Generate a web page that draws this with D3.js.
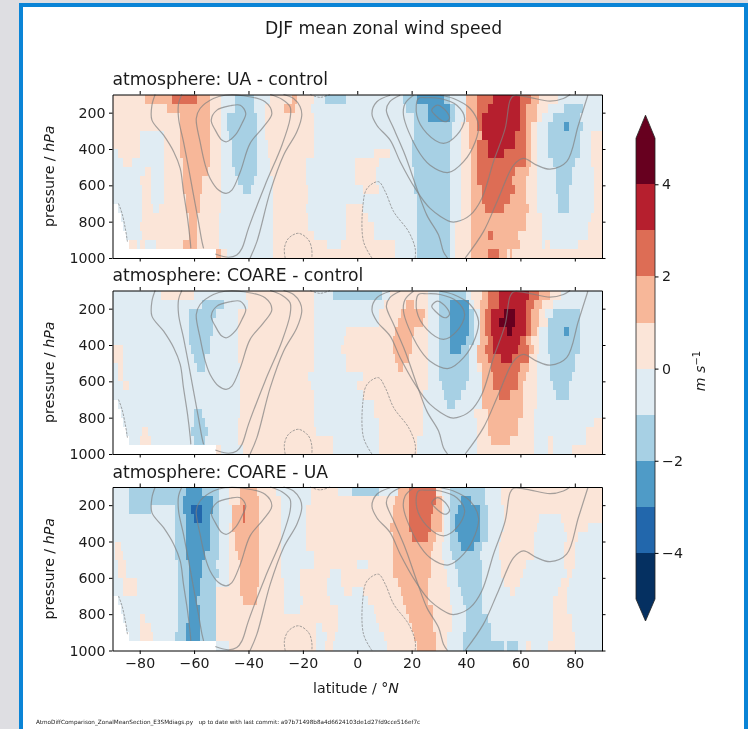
<!DOCTYPE html>
<html>
<head>
<meta charset="utf-8">
<script src="https://cdn.jsdelivr.net/npm/d3@7"></script>
<style>
html,body{margin:0;padding:0;background:#dedee2;overflow:hidden}
svg{display:block;filter:blur(0.35px)}
text{font-family:"DejaVu Sans",sans-serif;fill:#1a1a1a}
</style>
</head>
<body>
<script>
// band values (m/s, mid-point of each colour band)
const E=-3.5,C=-2.5,B=-1.5,L=-0.5,P=0.5,O=1.5,R=2.5,D=3.5,M=4.5,X=null;

const titleText = "DJF mean zonal wind speed";
const panelTitles = ["atmosphere: UA - control","atmosphere: COARE - control","atmosphere: COARE - UA"];
const footerText = "AtmoDiffComparison_ZonalMeanSection_E3SMdiags.py   up to date with last commit: a97b71498b8a4d6624103de1d27fd9cce516ef7c";
const latTicks = [-80,-60,-40,-20,0,20,40,60,80];
const pressureTicks = [200,400,600,800,1000];
const colorbarTicks = [-4,-2,0,2,4];
const levels = [-4,-3,-2,-1,0,1,2,3,4];
const bandColors = ["#053061","#2267ac","#4f9bc7","#a7d0e4","#e0ecf3","#fbe5d8","#f7b799","#dd6d55","#b61f2e","#67001f"];
const pressureEdges = d3.range(100,1001,50);

// each row = one 50 hPa layer: start latitude, value, start latitude, value ...
const uaControl = [
[-90,P,-78,O,-68,R,-59,O,-54,P,-50,L,-45,B,-38,L,-32,P,-24,O,-22,P,-16,L,-12,B,-4,L,17,B,22,C,32,B,34,L,40,O,44,R,50,D,60,R,64,O,67,P,74,L],
[-90,P,-70,O,-54,P,-50,L,-45,B,-38,L,-34,P,-27,O,-23,P,-17,L,18,B,26,C,34,B,36,L,40,O,44,R,48,D,60,R,62,O,66,P,70,L,76,B,83,L],
[-90,P,-65,O,-54,P,-50,L,-48,B,-37,L,-34,P,-16,L,21,B,26,C,34,B,36,L,40,O,44,R,46,D,60,R,62,O,66,P,68,L,72,B,82,L],
[-90,P,-65,O,-54,P,-50,L,-48,B,-37,L,-34,P,-16,L,21,B,35,L,38,P,41,O,44,R,46,D,60,R,62,O,64,P,66,L,70,B,76,C,78,B,83,L],
[-90,P,-80,L,-71,P,-65,O,-54,P,-50,L,-47,B,-37,L,-34,P,-16,L,21,B,35,L,38,P,41,O,46,D,58,R,62,O,64,P,66,L,70,B,82,L,86,P],
[-90,P,-80,L,-71,P,-65,O,-54,P,-50,L,-46,B,-37,L,-33,P,-16,L,20,B,34,L,38,P,41,O,44,R,48,D,58,R,62,O,64,P,66,L,70,B,82,L,86,P],
[-90,L,-88,P,-80,L,-71,P,-65,O,-54,P,-50,L,-46,B,-37,L,-33,P,-16,L,6,P,12,L,20,B,34,L,38,P,42,O,44,R,48,D,54,R,62,O,64,P,66,L,70,B,82,L,86,P],
[-90,L,-86,P,-83,L,-71,P,-64,O,-54,P,-50,L,-46,B,-37,L,-32,P,-19,L,-1,P,8,L,20,B,34,L,38,P,42,O,44,R,62,O,64,P,66,L,72,B,80,L,86,P],
[-90,L,-78,P,-76,L,-71,P,-64,O,-55,P,-50,L,-45,B,-37,L,-32,P,-19,L,-1,P,7,L,21,B,34,L,38,P,42,O,44,R,58,O,63,P,66,L,73,B,79,L,87,P],
[-90,L,-80,P,-76,L,-71,P,-64,O,-57,P,-50,L,-44,B,-38,L,-31,P,-19,L,-1,P,7,L,21,B,34,L,38,P,42,O,44,R,57,O,62,P,66,L,73,B,79,L,87,P],
[-90,L,-79,P,-76,L,-71,P,-64,O,-57,P,-50,L,-42,B,-39,L,-31,P,-18,L,2,P,8,L,21,B,34,L,38,P,42,O,46,R,58,O,62,P,66,L,73,B,78,L,87,P],
[-90,L,-79,P,-76,L,-71,P,-63,O,-58,P,-50,L,-31,P,-18,L,22,B,34,L,38,P,42,O,46,R,56,O,62,P,66,L,74,B,78,L,87,P],
[-90,X,-88,L,-79,P,-75,L,-73,P,-63,O,-58,P,-50,L,-31,P,-19,L,-4,P,2,L,22,B,34,L,38,P,42,O,47,R,54,O,63,P,66,L,74,B,78,L,87,P],
[-90,X,-87,L,-79,P,-62,O,-59,P,-51,L,-31,P,-18,L,-4,P,4,L,22,B,34,L,38,P,42,O,62,P,68,L,86,P],
[-90,X,-86,L,-80,P,-62,O,-59,P,-51,L,-31,P,-18,L,-4,P,6,L,22,B,34,L,36,P,42,O,62,P,68,L,85,P],
[-90,X,-85,L,-79,P,-62,O,-59,P,-51,L,-31,P,-16,L,-4,P,6,L,22,B,34,L,36,P,42,O,48,R,50,O,59,P,68,L,85,P],
[-90,X,-84,P,-81,L,-80,P,-78,L,-74,P,-64,O,-59,P,-51,L,-31,P,-11,L,-6,P,14,L,22,B,34,L,36,P,42,O,60,P,68,L,69,P,71,L,81,P],
[-90,X,-52,O,-50,P,-48,L,-31,P,14,L,22,B,34,L,36,P,42,O,48,R,52,O,55,P,56,O,57,P,81,P]
];

const coareControl = [
[-90,L,-72,P,-60,L,-41,P,-16,L,-9,B,9,L,12,P,26,L,30,B,40,L,42,P,46,O,48,R,52,D,63,R,67,O,71,P,75,L],
[-90,L,-57,B,-49,L,-40,P,-16,L,10,P,18,O,21,P,26,L,30,B,34,C,41,L,43,P,45,O,48,R,52,D,62,R,65,O,68,P,72,L],
[-90,L,-62,B,-52,L,-44,P,-16,L,8,P,16,O,25,P,26,L,30,B,34,C,41,B,43,L,45,O,47,R,49,D,54,M,58,D,62,R,64,O,67,P,69,L,72,B,82,L],
[-90,L,-62,B,-53,L,-44,P,-16,L,8,P,15,O,24,P,26,L,30,B,34,C,41,B,43,L,45,O,47,R,49,D,52,M,58,D,62,R,64,O,67,P,70,B,82,L],
[-90,L,-62,B,-53,L,-44,P,-16,L,-4,P,14,O,21,P,26,L,30,B,34,C,41,B,43,L,45,O,47,R,49,D,55,M,57,D,62,R,64,O,66,P,67,L,70,B,76,C,78,B,82,L],
[-90,L,-62,B,-54,L,-44,P,-16,L,-5,P,13,O,20,P,26,L,30,B,34,C,40,B,43,L,45,O,48,R,50,D,60,R,62,O,64,P,67,L,70,B,82,L],
[-90,P,-86,L,-61,B,-54,L,-44,P,-16,L,-6,P,13,O,20,P,26,L,30,B,34,C,38,B,41,L,44,O,47,R,50,D,59,R,63,O,65,P,67,L,70,B,82,L],
[-90,P,-86,L,-60,B,-56,L,-44,P,-16,L,-4,P,14,O,19,P,26,L,30,B,41,L,44,O,48,R,53,D,57,R,63,P,66,L,71,B,80,L],
[-90,L,-88,P,-86,L,-59,B,-56,L,-43,P,-16,L,-4,P,15,O,17,P,26,L,30,B,41,L,44,P,46,O,49,R,60,O,63,P,66,L,71,B,80,L],
[-90,L,-88,P,-86,L,-43,P,-18,L,2,P,26,L,30,B,41,L,46,O,50,R,59,O,62,P,66,L,71,B,79,L],
[-90,L,-86,P,-84,L,-43,P,-17,L,0,P,26,L,31,B,40,L,46,O,50,R,59,O,61,P,66,L,72,B,78,L],
[-90,L,-43,P,-16,L,2,P,24,L,32,B,38,L,46,O,52,R,56,O,61,P,66,L,73,B,78,L],
[-90,X,-88,L,-43,P,-16,L,6,P,24,L,33,B,36,L,46,O,61,P,66,L],
[-90,X,-87,L,-60,B,-57,L,-43,P,-16,L,6,P,24,L,43,P,48,O,61,P,65,L],
[-90,X,-86,L,-60,B,-56,L,-44,P,-16,L,8,P,24,L,44,P,48,O,59,P,65,L,87,P],
[-90,X,-85,L,-79,P,-77,L,-61,B,-55,L,-44,P,-15,L,8,P,24,L,44,P,48,O,59,P,65,L,84,P],
[-90,X,-84,L,-80,P,-76,L,-60,B,-56,L,-44,P,-9,L,8,P,22,L,44,P,49,O,56,P,65,L,70,P,72,L,84,P],
[-90,X,-52,P,-50,L,-42,P,-9,L,8,P,22,L,44,P,65,L,70,P,72,L,79,P]
];

const coareUa = [
[-90,L,-84,B,-63,C,-57,B,-51,L,-47,P,-43,O,-37,P,-30,L,-17,P,-7,L,-2,B,8,L,15,O,19,R,29,P,31,L,34,B,47,L,53,P],
[-90,L,-84,B,-64,C,-53,B,-51,L,-47,P,-43,O,-36,P,-28,L,-17,P,14,O,19,R,29,O,31,P,32,L,34,B,38,C,42,B,47,L,53,P],
[-90,L,-84,B,-76,L,-67,B,-64,C,-61,E,-57,C,-53,B,-51,L,-46,O,-42,R,-41.2,O,-36,P,-28,L,-19,P,13,O,19,R,28,O,31,P,32,L,34,B,37,C,45,B,48,L,54,P],
[-90,L,-67,B,-63,C,-60,E,-57,C,-54,B,-51,L,-46,O,-42,R,-41.2,O,-36,P,-28,L,-19,P,13,O,19,R,27,O,31,P,32,L,34,B,36,C,45,B,48,L,54,P,67,L,75,P],
[-90,L,-67,B,-63,C,-54,B,-51,L,-47,P,-46,O,-36,P,-28,L,-19,P,12,O,19,R,27,O,31,P,32,L,34,B,36,C,45,B,48,L,54,P,66,L,76,P,85,L],
[-90,L,-67,B,-63,C,-54,B,-51,L,-47,P,-45,O,-36,P,-28,L,-19,P,13,O,20,R,26,O,29,P,32,L,34,B,37,C,45,B,48,L,53,P,65,L,77,P,81,L],
[-90,L,-89,P,-87,L,-67,B,-63,C,-54,B,-51,L,-47,P,-45,O,-36,P,-28,L,-19,P,13,O,28,P,31,L,34,B,38,C,43,B,46,L,52,P,65,L,76,P,80,L],
[-90,L,-89,P,-86,L,-67,B,-63,C,-56,B,-51,L,-47,P,-44,O,-36,P,-28,L,-16,P,13,O,27,P,31,L,35,B,45,L,52,P,65,L,76,P,80,L],
[-90,L,-88,P,-85,L,-66,B,-62,C,-57,B,-52,L,-47,P,-43,O,-36,P,-28,L,-16,P,0,L,4,P,13,O,27,P,32,L,36,B,46,L,53,P,62,L,76,P,80,L],
[-90,L,-88,P,-85,L,-66,B,-62,C,-57,B,-51,L,-47,P,-43,O,-36,P,-28,L,-21,P,-10,L,-6,P,13,O,27,P,33,L,37,B,46,L,53,P,61,L,77,P,79,L],
[-90,L,-86,P,-81,L,-66,B,-62,C,-58,B,-52,L,-47,P,-43,O,-36,P,-27,L,-21,P,-11,L,-6,P,15,O,26,P,33,L,37,B,46,L,54,P,60,L,75,P,78,L],
[-90,L,-86,P,-81,L,-66,B,-62,C,-58,B,-52,P,-43,O,-37,P,-27,L,-21,P,-11,L,-5,P,-2,L,2,P,16,O,26,P,34,L,38,B,46,L,56,P,58,L,74,P,77,L],
[-90,X,-88,L,-66,B,-62,C,-59,B,-52,P,-42,O,-37,P,-27,L,-20,P,-10,L,4,P,17,O,26,P,34,L,39,B,46,L,72,P,77,L],
[-90,X,-87,L,-66,B,-62,C,-58,B,-52,P,-27,L,-21,P,-7,L,6,P,18,O,28,P,35,L,40,B,46,L,72,P,77,L],
[-90,X,-86,L,-80,P,-78,L,-66,B,-62,C,-58,B,-52,P,-7,L,7,P,19,O,28,P,35,L,40,B,48,L,72,P,79,L],
[-90,X,-85,L,-80,P,-76,L,-66,B,-63,C,-58,B,-52,P,-15,L,-13,P,-7,L,8,P,20,O,28,P,35,L,40,B,49,L,72,P,79,L],
[-90,X,-84,L,-80,P,-75,L,-67,B,-63,C,-58,B,-52,P,-15,L,-11,P,-8,L,10,P,21,O,29,P,33,L,39,B,49,L,72,P,80,L],
[-90,X,-52,L,-47,P,-15,L,-12,P,-9,L,11,P,22,O,29,P,33,L,39,B,54,L,55,B,59,L,62,P,64,L,70,P,80,L]
];

// mean-wind contours traced as [latitude, pressure]
const contoursOpen = [
[[-74.3,100],[-75.5,159],[-75.5,241],[-71.2,324],[-67.5,415],[-65.1,507],[-63.9,635],[-62.4,782],[-61.4,910],[-61.2,947]],
[[-64.5,100],[-65.7,149],[-65.7,232],[-63.9,360],[-62,507],[-60.2,654],[-58.4,800],[-57.1,910],[-56.5,947]],
[[-52.2,978],[-47.3,996],[-44.3,984],[-42.4,947],[-40,837],[-33.9,599],[-27.7,379],[-24.7,232],[-24.7,168],[-27.7,126],[-32,100]],
[[-39.4,1000],[-36.9,910],[-32,635],[-27.1,434],[-22.2,305],[-20.4,214],[-21,168],[-23.4,122],[-27.1,100]],
[[12.1,104],[7.2,140],[5.4,204],[7.2,269],[12.1,351],[15.8,470],[21.3,617],[26.8,727],[34.2,800],[36.6,800],[41.5,764],[45.8,672],[50.1,470],[54.4,287],[56.2,131],[57.5,107],[62.4,113],[70.9,137],[75.8,122],[78.3,100]],
[[15.8,104],[11.9,140],[10.7,186],[13.4,287],[17.6,434],[21.9,617],[25.6,764],[29.9,874],[31.7,965],[33.2,1000]],
[[20.7,104],[17.6,149],[17,214],[21.9,397],[26.8,489],[33.6,529],[39.1,470],[43.4,360],[44.6,269],[41.5,177],[35.4,122],[30.5,104]],
[[39.7,1000],[46.4,855],[51.9,672],[57.5,489],[61.1,452],[66,489],[70.9,511],[77,470],[81.3,269],[84.8,104]]
];
const contoursClosed = [
[[-57.8,177],[-52.9,122],[-48.6,104],[-41.8,107],[-33.9,140],[-31.4,204],[-34.5,278],[-39.4,369],[-43,525],[-46.1,626],[-48.2,644],[-51,626],[-54.1,562],[-55.9,489],[-57.8,360],[-59.2,232]],
[[-41,204],[-43,159],[-46.7,162],[-51.6,186],[-53.7,241],[-52.2,296],[-49.8,351],[-48,360],[-44.9,324],[-42.4,259]],
[[22.5,122],[21.9,214],[25.6,314],[31.7,369],[36.6,324],[39.5,232],[36.6,159],[30.5,122],[25.6,118]],
[[27.4,186],[29.5,159],[32.9,195],[33.9,232],[32.3,250],[28.7,214]]
];
const contoursDashed = [
[[-87.8,700],[-86.5,754],[-85.3,837],[-84.5,910]],
[[-26.5,1000],[-26.8,947],[-25.3,892],[-21.6,864],[-17.9,901],[-16.7,956],[-16.7,1000]],
[[-17.3,100],[-13.7,116],[-10,100]],
[[5.4,1000],[2.3,910],[2.1,709],[3.6,617],[7.8,580],[10.3,635],[13.4,745],[18.9,855],[21.3,947],[21.3,1000]]
];

const panelData = [uaControl, coareControl, coareUa];
const W=748,H=729;
const svg = d3.select("body").append("svg").attr("width",W).attr("height",H);

// page frame
svg.append("rect").attr("x",21).attr("y",5).attr("width",725).attr("height",H+20)
  .attr("fill","#fff").attr("stroke","#0a84d6").attr("stroke-width",4);

svg.append("text").attr("x",383.5).attr("y",33.5).attr("text-anchor","middle")
  .style("font-size","17.2px").text(titleText);

const x = d3.scaleLinear().domain([-90,90]).range([112.5,602]);
const color = d3.scaleThreshold().domain(levels).range(bandColors);
const minus = s => String(s).replace("-","\u2212");
const panelTops = [94.5,290.5,487];
const panelH = 163.5;

panelData.forEach((rows,pi)=>{
  const top = panelTops[pi];
  const y = d3.scaleLinear().domain([100,1000]).range([top,top+panelH]);
  const g = svg.append("g");
  rows.forEach((row,ri)=>{
    for(let i=0;i<row.length;i+=2){
      const v=row[i+1]; if(v===null) continue;
      const x0=row[i], x1=i+2<row.length?row[i+2]:90;
      g.append("rect").attr("x",x(x0)).attr("width",x(x1)-x(x0))
       .attr("y",y(pressureEdges[ri])).attr("height",y(pressureEdges[ri+1])-y(pressureEdges[ri]))
       .attr("fill",color(v)).attr("shape-rendering","crispEdges");
    }
  });
  const line = d3.line().x(d=>x(d[0])).y(d=>y(d[1])).curve(d3.curveCatmullRom.alpha(0.5));
  const lineC = d3.line().x(d=>x(d[0])).y(d=>y(d[1])).curve(d3.curveCatmullRomClosed.alpha(0.5));
  const cg = g.append("g").attr("fill","none").attr("stroke","#808080").attr("stroke-opacity",0.7).attr("stroke-width",1.2);
  contoursOpen.forEach(c=>cg.append("path").attr("d",line(c)));
  contoursClosed.forEach(c=>cg.append("path").attr("d",lineC(c)));
  contoursDashed.forEach(c=>cg.append("path").attr("d",line(c)).attr("stroke-width",1).attr("stroke-dasharray","2.5,1.2"));

  const styleAxis = a=>{ a.select(".domain").attr("stroke","#000").attr("stroke-width",1);
    a.selectAll(".tick line").attr("stroke","#000"); a.selectAll("text").style("font-size","14.2px").attr("fill","#1a1a1a"); };
  const bot = svg.append("g").attr("transform",`translate(0,${top+panelH})`)
    .call(d3.axisBottom(x).tickValues(latTicks).tickSize(3.5).tickPadding(3.5).tickSizeOuter(0)
      .tickFormat(d=>pi===2?minus(d):""));
  styleAxis(bot);
  const tp = svg.append("g").attr("transform",`translate(0,${top})`)
    .call(d3.axisTop(x).tickValues(latTicks).tickSize(3.5).tickSizeOuter(0).tickFormat(""));
  styleAxis(tp);
  const lf = svg.append("g").attr("transform","translate(112.5,0)")
    .call(d3.axisLeft(y).tickValues(pressureTicks).tickSize(3.5).tickPadding(3.5).tickSizeOuter(0).tickFormat(d3.format("d")));
  styleAxis(lf);
  const rt = svg.append("g").attr("transform","translate(602,0)")
    .call(d3.axisRight(y).tickValues(pressureTicks).tickSize(3.5).tickSizeOuter(0).tickFormat(""));
  styleAxis(rt);

  svg.append("text").attr("x",112.5).attr("y",top-9.5).style("font-size","17.2px").text(panelTitles[pi]);
  const yl = svg.append("text").attr("transform",`translate(54,${top+panelH/2}) rotate(-90)`)
    .attr("text-anchor","middle").style("font-size","14.2px");
  yl.append("tspan").text("pressure / ");
  yl.append("tspan").style("font-style","italic").text("hPa");
});

const xl = svg.append("text").attr("x",356).attr("y",693).attr("text-anchor","middle").style("font-size","14.2px");
xl.append("tspan").text("latitude / \u00b0");
xl.append("tspan").style("font-style","italic").text("N");

// colour bar
const cbX0=636, cbX1=655;
const cy = d3.scaleLinear().domain([-5,5]).range([599,138.2]);
const edges=[-5,...levels,5];
const cb = svg.append("g");
bandColors.forEach((c,i)=>{
  cb.append("rect").attr("x",cbX0).attr("width",cbX1-cbX0).attr("y",cy(edges[i+1]))
    .attr("height",cy(edges[i])-cy(edges[i+1])).attr("fill",c).attr("shape-rendering","crispEdges");
});
const mid=(cbX0+cbX1)/2;
cb.append("path").attr("d",`M${cbX0},${cy(5)}L${mid},${cy(5)-23}L${cbX1},${cy(5)}Z`).attr("fill",bandColors[9]);
cb.append("path").attr("d",`M${cbX0},${cy(-5)}L${mid},${cy(-5)+22}L${cbX1},${cy(-5)}Z`).attr("fill",bandColors[0]);
cb.append("path").attr("fill","none").attr("stroke","#222").attr("stroke-width",0.8)
  .attr("d",`M${cbX0},${cy(5)}L${mid},${cy(5)-23}L${cbX1},${cy(5)}L${cbX1},${cy(-5)}L${mid},${cy(-5)+22}L${cbX0},${cy(-5)}Z`);
const ca = svg.append("g").attr("transform",`translate(${cbX1},0)`)
  .call(d3.axisRight(cy).tickValues(colorbarTicks).tickSize(3.5).tickPadding(3.5).tickFormat(minus));
ca.select(".domain").remove();
ca.selectAll(".tick line").attr("stroke","#000");
ca.selectAll("text").style("font-size","14.2px").attr("fill","#1a1a1a");

const ul = svg.append("text").attr("transform",`translate(705,371) rotate(-90)`)
  .attr("text-anchor","middle").style("font-size","14.2px");
ul.append("tspan").style("font-style","italic").text("m s");
ul.append("tspan").attr("dy",-5).style("font-size","10px").text("\u22121");

svg.append("text").attr("x",36).attr("y",723.5).style("font-size","5.7px").attr("xml:space","preserve")
  .style("white-space","pre").text(footerText);
</script>
</body>
</html>
